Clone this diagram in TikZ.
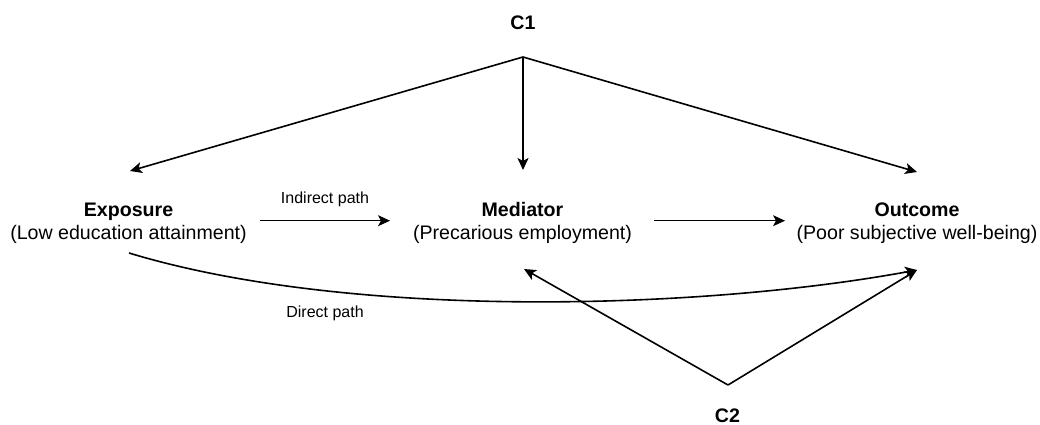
\documentclass[tikz,border=0pt]{standalone}
\usepackage{fontspec}
\setmainfont{Liberation Sans}
\usetikzlibrary{arrows.meta}
\begin{document}
\begin{tikzpicture}[x=1pt,y=-1pt,
  title/.style={font=\fontsize{19.6}{23}\selectfont\bfseries, inner sep=0pt, anchor=base},
  desc/.style={font=\fontsize{19.6}{23}\selectfont, inner sep=0pt, anchor=base},
  lbl/.style={font=\fontsize{16}{19}\selectfont, inner sep=0pt, anchor=base},
  bigarrow/.style={line width=1.6pt, -{Stealth[length=12pt,width=11pt,inset=3pt]}},
  smallarrow/.style={line width=1pt, -{Stealth[length=12pt,width=11pt,inset=3pt]}}]
\useasboundingbox (0,0) rectangle (1040,425);
% nodes
\node[title] (c1) at (523,30) {C1};
\node[title] (exp) at (128.5,216.5) {Exposure};
\node[desc] (expd) at (128.5,239.5) {(Low education attainment)};
\node[title] (med) at (522.5,216.5) {Mediator};
\node[desc] (medd) at (522.5,239.5) {(Precarious employment)};
\node[title] (out) at (917,216.5) {Outcome};
\node[desc] (outd) at (917,239.5) {(Poor subjective well-being)};
\node[title] (c2) at (727.5,422) {C2};
\node[lbl] (ind) at (325,203) {Indirect path};
\node[lbl] (dir) at (325,317) {Direct path};
% connector end points
\coordinate (c1p) at (523,57);
\coordinate (c2p) at (728,385);
\coordinate (expin) at (130,171);
\coordinate (medin) at (523,170);
\coordinate (outin) at (917,172);
\coordinate (expout) at (129,253);
\coordinate (outlow) at (917,270);
\coordinate (medlow) at (524,269);
\coordinate (ia) at (260,220.7);
\coordinate (ib) at (390,220.7);
\coordinate (ma) at (654,220.7);
\coordinate (mb) at (785,220.7);
% connectors
\draw[bigarrow] (c1p) -- (expin);
\draw[bigarrow] (c1p) -- (medin);
\draw[bigarrow] (c1p) -- (outin);
\draw[smallarrow] (ia) -- (ib);
\draw[smallarrow] (ma) -- (mb);
\draw[bigarrow] (expout) .. controls (350,320) and (700,310) .. (outlow);
\draw[bigarrow] (c2p) -- (medlow);
\draw[bigarrow] (c2p) -- (outlow);
\end{tikzpicture}
\end{document}
